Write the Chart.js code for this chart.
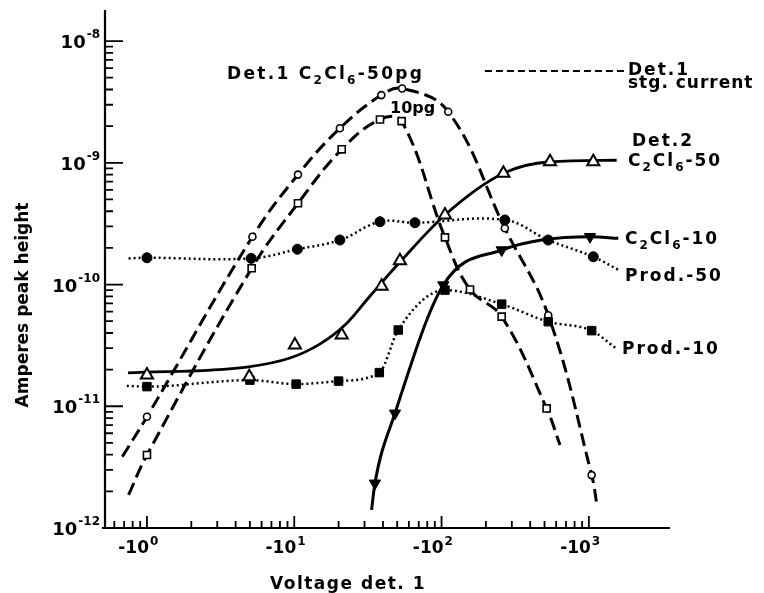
<!DOCTYPE html>
<html>
<head>
<meta charset="utf-8">
<title>Amperes peak height vs voltage det. 1</title>
<script src="https://cdn.jsdelivr.net/npm/chart.js@4.4.1/dist/chart.umd.min.js"></script>
<style>
    html, body { margin: 0; padding: 0; background: #fff; }
    canvas { display: block; }
</style>
</head>
<body>
<canvas id="myChart" width="764" height="593"></canvas>
<script>
// voltages are stored as magnitudes, the axis prints them negative
// first and last point of each curve are only the ends of the drawn line (no marker)

// Det.1 C2Cl6-50pg (open circles, dashed)
const det1_50_x = [0.68, 1, 5.2, 10.6, 20.4, 39, 54, 111, 269, 530, 1045, 1140];
const det1_50_y = [3.85e-12, 8.2e-12, 2.47e-10, 8.0e-10, 1.92e-9, 3.6e-9, 4.08e-9, 2.63e-9, 2.9e-10, 5.6e-11, 2.72e-12, 1.49e-12];

// Det.1 C2Cl6-10pg (open squares, dashed)
const det1_10_x = [0.75, 1, 5.14, 10.6, 21, 38.2, 53.6, 105.5, 156, 256, 517, 637];
const det1_10_y = [1.87e-12, 3.98e-12, 1.36e-10, 4.65e-10, 1.29e-9, 2.27e-9, 2.2e-9, 2.44e-10, 9.1e-11, 5.45e-11, 9.6e-12, 4.8e-12];

// Det.2 C2Cl6-50 measured points (open triangles)
const det2_50_x = [1, 4.95, 10.1, 21, 39.2, 52.2, 105.5, 263, 545, 1072];
const det2_50_y = [1.81e-11, 1.75e-11, 3.19e-11, 3.85e-11, 9.7e-11, 1.57e-10, 3.73e-10, 8.2e-10, 1.02e-9, 1.02e-9];
// Det.2 C2Cl6-50 smooth curve drawn through them
const det2_50_fit_x = [0.743, 4.77, 9.35, 14.9, 22.1, 32.7, 52.2, 105.5, 263, 545, 1545];
const det2_50_fit_y = [1.88e-11, 2.1e-11, 2.49e-11, 3.24e-11, 4.65e-11, 8.05e-11, 1.53e-10, 3.73e-10, 8.2e-10, 1.02e-9, 1.05e-9];

// Det.2 C2Cl6-10 (filled down triangles, solid)
const det2_10_x = [33.5, 35.3, 48.3, 102.8, 256, 1018, 1585];
const det2_10_y = [1.41e-12, 2.33e-12, 8.75e-12, 9.9e-11, 1.92e-10, 2.47e-10, 2.4e-10];

// Prod.-50 (filled circles, dotted)
const prod_50_x = [0.75, 1, 5.1, 10.5, 20.4, 38.2, 66, 269, 530, 1072, 1585];
const prod_50_y = [1.64e-10, 1.66e-10, 1.64e-10, 1.95e-10, 2.32e-10, 3.28e-10, 3.22e-10, 3.39e-10, 2.32e-10, 1.69e-10, 1.32e-10];

// Prod.-10 (filled squares, dotted)
const prod_10_x = [0.73, 1, 5, 10.3, 20, 37.8, 50.8, 105.5, 256, 530, 1045, 1530];
const prod_10_y = [1.47e-11, 1.45e-11, 1.64e-11, 1.52e-11, 1.61e-11, 1.89e-11, 4.23e-11, 9.0e-11, 6.9e-11, 4.95e-11, 4.18e-11, 2.99e-11];

// Det.1 stg. current (key line only)
const stg_x = [197, 1815];
const stg_y = [5.68e-9, 5.68e-9];

// axes
const xMin = 0.519, xMax = 3556;
const yMin = 1e-12, yMax = 1.8e-8;
const xTickValues = [1, 10, 100, 1000];
const xTickLabels = ['-10^0', '-10^1', '-10^2', '-10^3'];
const yTickValues = [1e-12, 1e-11, 1e-10, 1e-9, 1e-8];
const yTickLabels = ['10^-12', '10^-11', '10^-10', '10^-9', '10^-8'];

const FONT = '"DejaVu Sans", sans-serif';

function pts(xs, ys) {
    return xs.map((x, i) => ({ x: x, y: ys[i] }));
}

// marker radius for every point except the two curve ends
function ends0(xs, r) {
    return xs.map((x, i) => (i === 0 || i === xs.length - 1) ? 0 : r);
}

const datasets = [
    {
        label: 'Det.1 stg. current',
        data: pts(stg_x, stg_y),
        borderColor: '#000', borderWidth: 2, borderDash: [7, 4],
        pointRadius: 0, tension: 0, order: 9
    },
    {
        label: 'Det.1 C2Cl6-50pg',
        data: pts(det1_50_x, det1_50_y),
        borderColor: '#000', borderWidth: 3, borderDash: [13, 6],
        pointStyle: 'circle', pointRadius: ends0(det1_50_x, 3.5),
        pointBackgroundColor: '#fff', pointBorderColor: '#000', pointBorderWidth: 1.6,
        tension: 0.4, order: 8
    },
    {
        label: 'Det.1 C2Cl6-10pg',
        data: pts(det1_10_x, det1_10_y),
        borderColor: '#000', borderWidth: 3, borderDash: [13, 6],
        pointStyle: 'rect', pointRadius: ends0(det1_10_x, 5),
        pointBackgroundColor: '#fff', pointBorderColor: '#000', pointBorderWidth: 1.6,
        tension: 0.4, order: 7
    },
    {
        label: 'Det.2 C2Cl6-50 curve',
        data: pts(det2_50_fit_x, det2_50_fit_y),
        borderColor: '#000', borderWidth: 2.8,
        pointRadius: 0, cubicInterpolationMode: 'monotone', order: 6
    },
    {
        label: 'Det.2 C2Cl6-10',
        data: pts(det2_10_x, det2_10_y),
        borderColor: '#000', borderWidth: 3,
        pointStyle: 'triangle', rotation: 180, pointRadius: ends0(det2_10_x, 6.5),
        pointBackgroundColor: '#000', pointBorderColor: '#000', pointBorderWidth: 1,
        cubicInterpolationMode: 'monotone', order: 5
    },
    {
        label: 'Prod.-10',
        data: pts(prod_10_x, prod_10_y),
        borderColor: '#000', borderWidth: 2.5, borderDash: [2, 3],
        pointStyle: 'rect', pointRadius: ends0(prod_10_x, 6),
        pointBackgroundColor: '#000', pointBorderColor: '#000', pointBorderWidth: 1,
        cubicInterpolationMode: 'monotone', order: 4
    },
    {
        label: 'Prod.-50',
        data: pts(prod_50_x, prod_50_y),
        borderColor: '#000', borderWidth: 2.5, borderDash: [2, 3],
        pointStyle: 'circle', pointRadius: ends0(prod_50_x, 5),
        pointBackgroundColor: '#000', pointBorderColor: '#000', pointBorderWidth: 1,
        tension: 0.4, order: 3
    },
    {
        label: 'Det.2 C2Cl6-50',
        data: pts(det2_50_x, det2_50_y),
        showLine: false,
        pointStyle: 'triangle', pointRadius: 7,
        pointBackgroundColor: '#fff', pointBorderColor: '#000', pointBorderWidth: 2,
        order: 2
    }
];

// text with _x subscripts and ^... superscript
function drawRich(ctx, str, x, y, size, spacing) {
    const parts = [];
    for (let i = 0; i < str.length; i++) {
        const c = str[i];
        if (c === '_') { parts.push({ t: str[i + 1], m: 1 }); i++; }
        else if (c === '^') { parts.push({ t: str.slice(i + 1), m: 2 }); break; }
        else parts.push({ t: c, m: 0 });
    }
    ctx.letterSpacing = spacing + 'px';
    ctx.textAlign = 'left';
    ctx.textBaseline = 'alphabetic';
    let cx = x;
    parts.forEach(p => {
        const s = p.m === 0 ? size : Math.round(size * 0.7);
        ctx.font = 'bold ' + s + 'px ' + FONT;
        const dy = p.m === 1 ? size * 0.28 : (p.m === 2 ? -size * 0.45 : 0);
        ctx.fillText(p.t, cx, y + dy);
        cx += ctx.measureText(p.t).width;
    });
    ctx.letterSpacing = '0px';
}

const axesPlugin = {
    id: 'axes',
    beforeDatasetsDraw(chart) {
        const ctx = chart.ctx;
        const a = chart.chartArea;
        const xs = chart.scales.x, ys = chart.scales.y;
        ctx.save();
        ctx.strokeStyle = '#000';
        ctx.fillStyle = '#000';
        ctx.lineWidth = 2.2;
        ctx.beginPath();
        ctx.moveTo(a.left, a.top);
        ctx.lineTo(a.left, a.bottom);
        ctx.moveTo(a.left - 3, a.bottom);
        ctx.lineTo(a.right, a.bottom);
        ctx.stroke();

        // y ticks, pointing into the plot
        ctx.lineWidth = 1.8;
        ctx.beginPath();
        for (let e = -12; e <= -8; e++) {
            const major = ys.getPixelForValue(Math.pow(10, e));
            if (e > -12) {
                ctx.moveTo(a.left, major);
                ctx.lineTo(a.left + 18, major);
            }
            if (e < -8) {
                for (let m = 2; m <= 9; m++) {
                    const py = ys.getPixelForValue(m * Math.pow(10, e));
                    ctx.moveTo(a.left, py);
                    ctx.lineTo(a.left + 8, py);
                }
            }
        }
        // x ticks, pointing up
        for (let e = 0; e <= 3; e++) {
            const px = xs.getPixelForValue(Math.pow(10, e));
            ctx.moveTo(px, a.bottom);
            ctx.lineTo(px, a.bottom - 12);
        }
        for (let e = -1; e <= 2; e++) {
            for (let m = 2; m <= 9; m++) {
                const v = m * Math.pow(10, e);
                if (v < 0.6) continue;
                const px = xs.getPixelForValue(v);
                ctx.moveTo(px, a.bottom);
                ctx.lineTo(px, a.bottom - 7);
            }
        }
        ctx.stroke();

        // y tick labels
        yTickValues.forEach((v, i) => {
            const py = ys.getPixelForValue(v);
            const parts = yTickLabels[i].split('^');
            ctx.font = 'bold 12px ' + FONT;
            const supW = ctx.measureText(parts[1]).width;
            ctx.font = 'bold 18px ' + FONT;
            const baseW = ctx.measureText(parts[0]).width;
            const right = a.left - 5;
            ctx.textAlign = 'left';
            ctx.textBaseline = 'alphabetic';
            ctx.fillText(parts[0], right - supW - baseW - 1, py + 7);
            ctx.font = 'bold 12px ' + FONT;
            ctx.fillText(parts[1], right - supW, py - 3);
        });

        // x tick labels
        xTickValues.forEach((v, i) => {
            const px = xs.getPixelForValue(v);
            const parts = xTickLabels[i].split('^');
            ctx.font = 'bold 17px ' + FONT;
            ctx.textAlign = 'right';
            ctx.textBaseline = 'alphabetic';
            ctx.fillText(parts[0], px + 2, a.bottom + 25);
            ctx.font = 'bold 12px ' + FONT;
            ctx.textAlign = 'left';
            ctx.fillText(parts[1], px + 3, a.bottom + 17);
        });
        ctx.restore();
    }
};

const labelsPlugin = {
    id: 'labels',
    afterDatasetsDraw(chart) {
        const ctx = chart.ctx;
        ctx.save();
        ctx.fillStyle = '#000';
        drawRich(ctx, 'Det.1 C_2Cl_6-50pg', 227, 79, 17, 2.3);
        drawRich(ctx, '10pg', 390, 113, 16, 0);
        drawRich(ctx, 'Det.1', 628, 75, 17, 2);
        drawRich(ctx, 'stg. current', 628, 88, 17, 1);
        drawRich(ctx, 'Det.2', 632, 146, 17, 2);
        drawRich(ctx, 'C_2Cl_6-50', 628, 166, 17, 2);
        drawRich(ctx, 'C_2Cl_6-10', 625, 244, 17, 2);
        drawRich(ctx, 'Prod.-50', 625, 281, 17, 2);
        drawRich(ctx, 'Prod.-10', 622, 354, 17, 2);

        // axis titles
        ctx.font = 'bold 17px ' + FONT;
        ctx.textAlign = 'center';
        ctx.textBaseline = 'alphabetic';
        ctx.letterSpacing = '1.5px';
        ctx.fillText('Voltage det. 1', 348, 589);
        ctx.letterSpacing = '0px';
        ctx.translate(28, 305);
        ctx.rotate(-Math.PI / 2);
        ctx.fillText('Amperes peak height', 0, 0);
        ctx.restore();
    }
};

const ctx = document.getElementById('myChart').getContext('2d');
const myChart = new Chart(ctx, {
    type: 'line',
    data: { datasets: datasets },
    options: {
        responsive: false,
        animation: false,
        devicePixelRatio: 1,
        layout: { padding: { left: 105, top: 10, right: 94, bottom: 65 } },
        plugins: { legend: { display: false }, tooltip: { enabled: false } },
        scales: {
            x: { type: 'logarithmic', display: false, min: xMin, max: xMax },
            y: { type: 'logarithmic', display: false, min: yMin, max: yMax }
        }
    },
    plugins: [axesPlugin, labelsPlugin]
});
</script>
</body>
</html>
